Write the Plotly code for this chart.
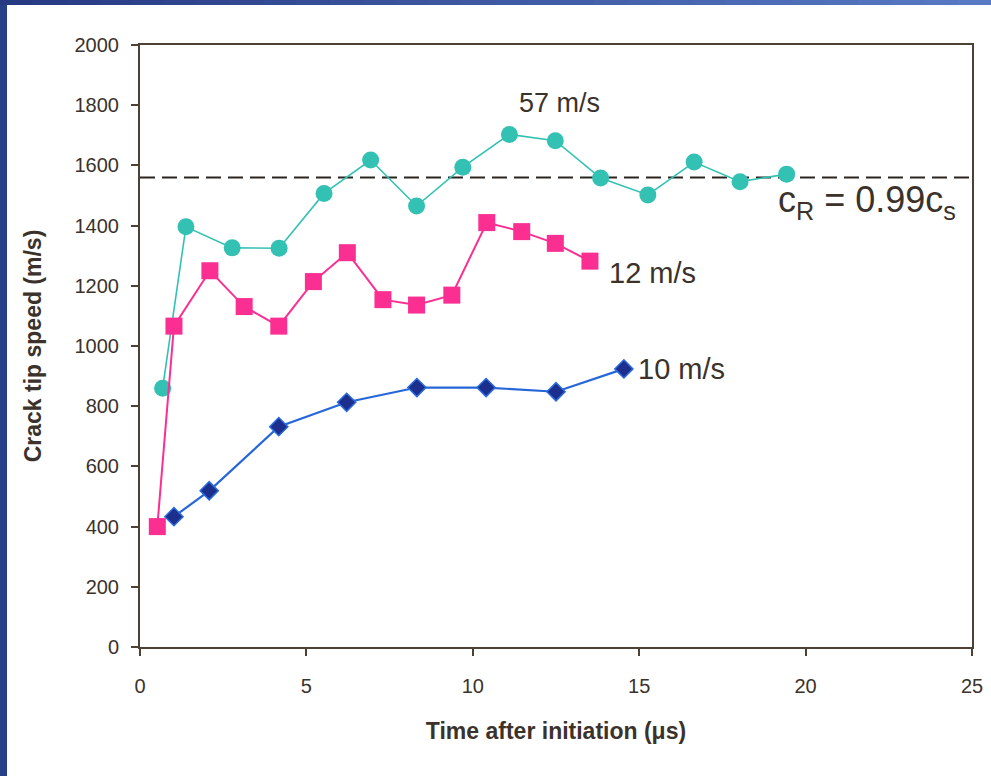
import plotly.graph_objects as go

# ---- data ----
t_57 = [0.68, 1.38, 2.77, 4.18, 5.53, 6.93, 8.31, 9.70, 11.10, 12.48, 13.84, 15.26, 16.65, 18.03, 19.43]
v_57 = [860, 1396, 1326, 1325, 1507, 1618, 1465, 1594, 1703, 1682, 1558, 1502, 1611, 1546, 1571]

t_12 = [0.52, 1.02, 2.10, 3.13, 4.17, 5.21, 6.23, 7.30, 8.31, 9.37, 10.42, 11.47, 12.48, 13.52]
v_12 = [400, 1066, 1250, 1131, 1066, 1214, 1310, 1154, 1136, 1169, 1410, 1380, 1341, 1282]

t_10 = [1.02, 2.08, 4.17, 6.21, 8.32, 10.40, 12.50, 14.54]
v_10 = [433, 519, 732, 813, 862, 862, 848, 924]

c_R = 1560
x_ticks = [0, 5, 10, 15, 20, 25]
y_ticks = [0, 200, 400, 600, 800, 1000, 1200, 1400, 1600, 1800, 2000]

labels = {"57": "57 m/s", "12": "12 m/s", "10": "10 m/s",
          "cR": "c<sub>R</sub> = 0.99c<sub>s</sub>"}

TXT = "#3b322b"
AX = "#4d4035"
FONT = "Liberation Sans, Arial, Helvetica"

fig = go.Figure()
fig.add_trace(go.Scatter(x=t_57, y=v_57, mode="lines+markers",
                         line=dict(color="#33c1b4", width=1.6),
                         marker=dict(symbol="circle", size=17, color="#33c1b4"),
                         showlegend=False))
fig.add_trace(go.Scatter(x=t_12, y=v_12, mode="lines+markers",
                         line=dict(color="#fb2e92", width=2),
                         marker=dict(symbol="square", size=17, color="#fb2e92"),
                         showlegend=False))
fig.add_trace(go.Scatter(x=t_10, y=v_10, mode="lines+markers",
                         line=dict(color="#2566d8", width=2.2),
                         marker=dict(symbol="diamond", size=14, color="#1c2f8c",
                                     line=dict(color="#2a6ae0", width=1.5)),
                         showlegend=False))

shapes = [dict(type="line", xref="x", yref="y", x0=0, x1=25, y0=c_R, y1=c_R,
               line=dict(color="#2a2520", width=2, dash="15px,7px"), layer="below")]

# blue frame decoration (left band and gradient top band)
W, H = 991, 776
L, R, T, B = 140, 19, 45, 129
pw, ph = W - L - R, H - T - B
def px(x): return (x - L) / pw
def py(y): return (H - B - y) / ph
shapes.append(dict(type="rect", xref="paper", yref="paper",
                   x0=px(-2), x1=px(7), y0=py(H + 2), y1=py(-2),
                   fillcolor="#27408a", line=dict(width=0), layer="above"))
n = 30
c0, c1 = (0x26, 0x3a, 0x82), (0x58, 0x79, 0xc4)
for i in range(n):
    f = i / (n - 1)
    col = "rgb(%d,%d,%d)" % tuple(int(a + (b - a) * f) for a, b in zip(c0, c1))
    shapes.append(dict(type="rect", xref="paper", yref="paper",
                       x0=px(W * i / n - 1), x1=px(W * (i + 1) / n + 1),
                       y0=py(5), y1=py(-2),
                       fillcolor=col, line=dict(width=0), layer="above"))

annots = [
    dict(x=12.62, y=1807, text=labels["57"], xanchor="center", size=27),
    dict(x=14.03, y=1242, text=labels["12"], xanchor="left", size=29),
    dict(x=14.90, y=923, text=labels["10"], xanchor="left", size=29),
    dict(x=19.10, y=1478, text=labels["cR"], xanchor="left", size=36),
]
for a in annots:
    s = a.pop("size")
    a.update(xref="x", yref="y", showarrow=False, yanchor="middle",
             font=dict(family=FONT, size=s, color=TXT))

axis_common = dict(showline=True, linecolor=AX, linewidth=2, mirror=True,
                   ticks="outside", ticklen=7, tickwidth=1.5, tickcolor=AX,
                   showgrid=False, zeroline=False, automargin=False,
                   tickfont=dict(family=FONT, size=20, color=TXT))

fig.update_layout(
    width=W, height=H, autosize=False,
    margin=dict(l=L, r=R, t=T, b=B, autoexpand=False),
    paper_bgcolor="white", plot_bgcolor="white",
    xaxis=dict(range=[0, 25], tickvals=x_ticks, ticklabelstandoff=13, **axis_common,
               title=dict(text="<b>Time after initiation (μs)</b>", standoff=27,
                          font=dict(family=FONT, size=23, color=TXT))),
    yaxis=dict(range=[0, 2000], tickvals=y_ticks, ticklabelstandoff=8, **axis_common,
               title=dict(text="<b>Crack tip speed (m/s)</b>", standoff=26,
                          font=dict(family=FONT, size=23, color=TXT))),
    shapes=shapes,
    annotations=annots,
)

fig.write_html("out.html",
               config={"displayModeBar": False, "responsive": False},
               post_script="document.body.style.margin='0';document.body.style.overflow='hidden';")
